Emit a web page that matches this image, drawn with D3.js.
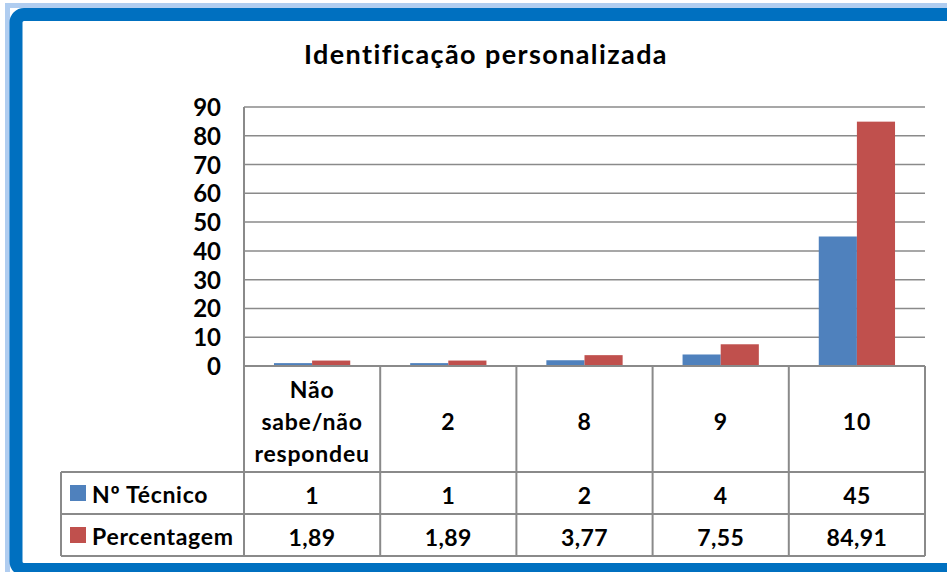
<!DOCTYPE html>
<head>
  <meta charset="utf-8">
  <script src="https://d3js.org/d3.v7.min.js"></script>
  <style>
    body { margin:0; background-color: white; overflow:hidden; }
    text { font-family: 'Lato', sans-serif; font-weight: bold; fill: #000; }
  </style>
</head>
<body>
  <svg id="chart" width="947" height="572"></svg>
  <script>
  // data
  var categories = ["Não sabe/não respondeu", "2", "8", "9", "10"];
  var seriesNames = ["Nº Técnico", "Percentagem"];
  var tecnico = [1, 1, 2, 4, 45];
  var percentagem = [1.89, 1.89, 3.77, 7.55, 84.91];
  var yTicks = [0, 10, 20, 30, 40, 50, 60, 70, 80, 90];

  var colors = ["#4f81bd", "#c0504d"];
  var gridColor = "#8a8a8a";

  var plotLeft = 244, plotRight = 925, plotTop = 107, plotBottom = 366;
  var headerBottom = 472, row1Bottom = 514, row2Bottom = 556, tableLeft = 61;

  var svg = d3.select("#chart");

  // window frame
  svg.append("rect")
      .attr("x", 7.5).attr("y", 5.5)
      .attr("width", 1000).attr("height", 600)
      .attr("fill", "none")
      .attr("stroke", "#b0cdf0")
      .attr("stroke-width", 5);
  svg.append("rect")
      .attr("x", 16).attr("y", 14.5)
      .attr("width", 1000).attr("height", 555)
      .attr("rx", 8)
      .attr("fill", "white")
      .attr("stroke", "#0070c0")
      .attr("stroke-width", 13);

  svg.append("text")
      .attr("x", 486).attr("y", 64)
      .attr("text-anchor", "middle")
      .style("font-size", "27px")
      .style("letter-spacing", "1.4px")
      .text("Identificação personalizada");

  var x = d3.scaleBand().domain(categories).range([plotLeft, plotRight]);
  var x1 = d3.scaleBand().domain(seriesNames)
      .range([x.bandwidth() * 0.22, x.bandwidth() * 0.78]);
  var y = d3.scaleLinear().domain([0, 90]).range([plotBottom, plotTop]);

  // gridlines
  svg.append("g").selectAll("line")
      .data(yTicks)
    .enter().append("line")
      .attr("x1", plotLeft).attr("x2", plotRight)
      .attr("y1", function(d) { return y(d); })
      .attr("y2", function(d) { return y(d); })
      .attr("stroke", gridColor)
      .attr("stroke-width", 1.5);

  svg.append("g").selectAll("text")
      .data(yTicks)
    .enter().append("text")
      .attr("x", 221)
      .attr("y", function(d) { return y(d) + 9; })
      .attr("text-anchor", "end")
      .style("font-size", "24px")
      .text(function(d) { return d; });

  // bars
  var values = [tecnico, percentagem];
  var bars = [];
  categories.forEach(function(c, i) {
    seriesNames.forEach(function(s, j) {
      bars.push({cat: c, series: s, value: values[j][i], idx: j});
    });
  });
  svg.append("g").selectAll("rect")
      .data(bars)
    .enter().append("rect")
      .attr("x", function(d) { return x(d.cat) + x1(d.series); })
      .attr("width", x1.bandwidth())
      .attr("y", function(d) { return y(d.value); })
      .attr("height", function(d) { return y(0) - y(d.value); })
      .attr("fill", function(d) { return colors[d.idx]; });

  // data table lines
  var tbl = svg.append("g")
      .attr("stroke", gridColor)
      .attr("stroke-width", 2);
  tbl.append("line").attr("x1", plotLeft).attr("x2", plotRight)
      .attr("y1", plotBottom).attr("y2", plotBottom);
  [headerBottom, row1Bottom, row2Bottom].forEach(function(yy) {
    tbl.append("line").attr("x1", tableLeft).attr("x2", plotRight)
        .attr("y1", yy).attr("y2", yy);
  });
  tbl.append("line").attr("x1", tableLeft).attr("x2", tableLeft)
      .attr("y1", headerBottom).attr("y2", row2Bottom);
  tbl.append("line").attr("x1", plotLeft).attr("x2", plotLeft)
      .attr("y1", plotTop).attr("y2", row2Bottom);
  categories.forEach(function(c) {
    var xx = x(c) + x.bandwidth();
    tbl.append("line").attr("x1", xx).attr("x2", xx)
        .attr("y1", plotBottom).attr("y2", row2Bottom);
  });

  // category labels
  categories.forEach(function(c) {
    var lines = c.split(" ");
    var cx = x(c) + x.bandwidth() / 2;
    var mid = 422;
    lines.forEach(function(l, k) {
      svg.append("text")
          .attr("x", cx)
          .attr("y", mid + (k - (lines.length - 1) / 2) * 32 + 8)
          .attr("text-anchor", "middle")
          .style("font-size", "23px")
          .style("letter-spacing", "0.8px")
          .text(l);
    });
  });

  // table rows
  var rowMid = [(headerBottom + row1Bottom) / 2, (row1Bottom + row2Bottom) / 2];
  var fmt = [function(v) { return String(v); },
             function(v) { return v.toFixed(2).replace(".", ","); }];
  seriesNames.forEach(function(s, j) {
    svg.append("rect")
        .attr("x", 70).attr("y", rowMid[j] - 8)
        .attr("width", 16).attr("height", 16)
        .attr("fill", colors[j]);
    svg.append("text")
        .attr("x", 92).attr("y", rowMid[j] + 10)
        .style("font-size", "23px")
        .style("letter-spacing", "0.7px")
        .text(s);
    categories.forEach(function(c, i) {
      svg.append("text")
          .attr("x", x(c) + x.bandwidth() / 2)
          .attr("y", rowMid[j] + 11)
          .attr("text-anchor", "middle")
          .style("font-size", "23px")
          .style("letter-spacing", "0.4px")
          .text(fmt[j](values[j][i]));
    });
  });
  </script>
</body>
